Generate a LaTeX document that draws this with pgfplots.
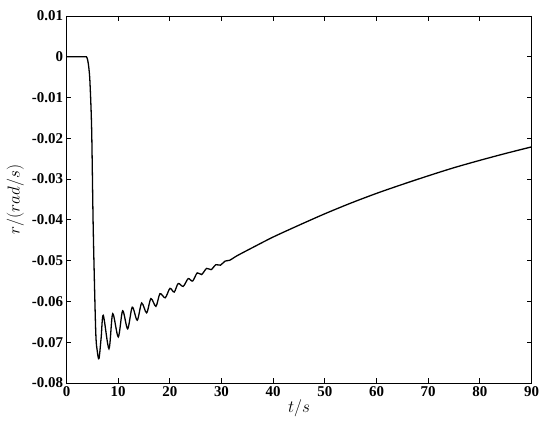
\documentclass[border=0pt]{standalone}
\usepackage{fontspec}
\setmainfont{Liberation Serif}
\usepackage{pgfplots}
\pgfplotsset{compat=1.18}
\begin{document}
\begin{tikzpicture}
\path[use as bounding box] (-66.5bp,-50.3bp) rectangle (483.5bp,383bp);
\begin{axis}[
  scale only axis,
  width=465bp, height=367bp,
  xmin=0, xmax=90, ymin=-0.08, ymax=0.01,
  scaled x ticks=false, scaled y ticks=false,
  xtick={0,10,...,90},
  ytick={-0.08,-0.07,-0.06,-0.05,-0.04,-0.03,-0.02,-0.01,0,0.01},
  xticklabels={0,10,20,30,40,50,60,70,80,90},
  yticklabels={-0.08,-0.07,-0.06,-0.05,-0.04,-0.03,-0.02,-0.01,0,0.01},
  tick align=inside,
  major tick length=5bp,
  tick style={black, line width=0.8pt},
  axis line style={line width=0.9pt},
  ticklabel style={font=\fontsize{15}{17}\selectfont\bfseries},
  xlabel={$t/s$},
  ylabel={$r/(rad/s)$},
  label style={font=\fontsize{18.5}{20}\selectfont},
  xlabel style={at={(axis description cs:0.5,-0.07)}, anchor=center},
  ylabel style={at={(axis description cs:-0.11,0.5)}, anchor=center},
]
\addplot[black, line width=1.3pt, smooth, tension=0.5] coordinates {
(0,0) (2,0) (3.5,0) (3.85,0) (4.1,-0.0008) (4.35,-0.0030) (4.55,-0.0065)
(4.87,-0.0179) (5.18,-0.0425) (5.65,-0.0671) (5.96,-0.0722) (6.29,-0.0740)
(6.7,-0.0690) (7.12,-0.0634)
(8.22,-0.0716) (8.94,-0.0630)
(10.02,-0.0687) (10.87,-0.0623)
(11.84,-0.0667) (12.73,-0.0614)
(13.69,-0.0646) (14.55,-0.0604)
(15.51,-0.0628) (16.34,-0.0593)
(17.31,-0.0612) (18.09,-0.0581)
(19.11,-0.0591) (20.02,-0.0568)
(20.85,-0.0577) (21.62,-0.0556)
(22.59,-0.0563) (23.56,-0.0544)
(24.41,-0.0550) (25.30,-0.0530)
(26.15,-0.0534) (27.12,-0.0519)
(28.0,-0.0522) (28.9,-0.0510)
(29.8,-0.0511) (30.7,-0.0501)
(31.6,-0.0499) (33.0,-0.0488)
(36,-0.0468) (40,-0.0442) (45,-0.0413) (50,-0.0385)
(55,-0.0359) (60,-0.0335) (65,-0.0313) (70,-0.0292)
(75,-0.0272) (80,-0.0254) (85,-0.0237) (90,-0.0221)
};
\end{axis}
\end{tikzpicture}
\end{document}
